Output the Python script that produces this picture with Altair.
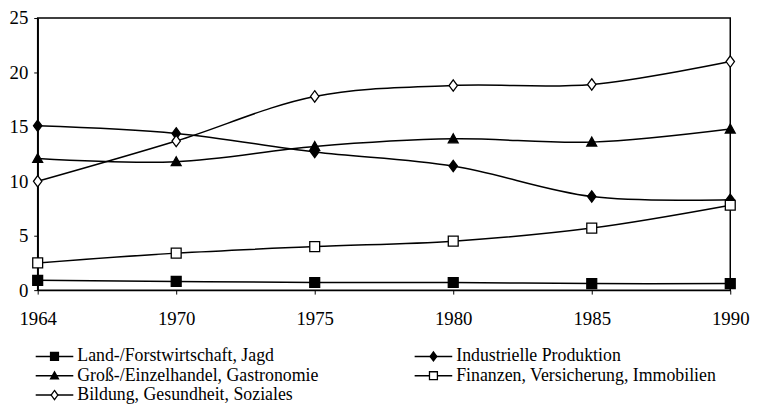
import altair as alt
import pandas as pd

years = ["1964", "1970", "1975", "1980", "1985", "1990"]
series = [
    "Land-/Forstwirtschaft, Jagd",
    "Industrielle Produktion",
    "Groß-/Einzelhandel, Gastronomie",
    "Finanzen, Versicherung, Immobilien",
    "Bildung, Gesundheit, Soziales",
]
land = [0.9, 0.8, 0.7, 0.7, 0.6, 0.6]
industrie = [15.1, 14.4, 12.7, 11.4, 8.6, 8.3]
handel = [12.1, 11.8, 13.2, 13.9, 13.6, 14.8]
finanzen = [2.5, 3.4, 4.0, 4.5, 5.7, 7.8]
bildung = [10.0, 13.7, 17.8, 18.8, 18.9, 21.0]
values = [land, industrie, handel, finanzen, bildung]

# legend layout: 2 columns, filled row by row
legend_col = [0, 1, 0, 1, 0]
legend_row = [0, 0, 1, 1, 2]

rows = []
for s, vals in zip(series, values):
    for y, v in zip(years, vals):
        rows.append({"Jahr": y, "Wert": v, "Bereich": s})
df = pd.DataFrame(rows)
leg_df = pd.DataFrame({"Bereich": series, "col": legend_col, "row": legend_row})

FONT = "Liberation Serif"

SQ = "M-1,-1H1V1H-1Z"
DIA = "M0,-1.15L0.85,0L0,1.15L-0.85,0Z"
TRI = "M0,-1L1,0.8H-1Z"
marker_shapes = [SQ, DIA, TRI, SQ, DIA]
marker_fill = ["black", "black", "black", "white", "white"]

x_enc = alt.X("Jahr:O", sort=years,
              scale=alt.Scale(type="point", padding=0),
              axis=alt.Axis(title=None, labelAngle=0, labelFont=FONT, labelFontSize=19,
                            labelColor="black", domainColor="black", domainWidth=1.5,
                            tickColor="black", tickSize=4, tickWidth=1, labelPadding=16))
y_enc = alt.Y("Wert:Q",
              scale=alt.Scale(domain=[0, 25], nice=False),
              axis=alt.Axis(title=None, values=[0, 5, 10, 15, 20, 25], grid=False,
                            labelFont=FONT, labelFontSize=19, labelColor="black",
                            domainColor="black", domainWidth=1.5, tickColor="black",
                            tickSize=4, labelPadding=6))

shape_enc = alt.Shape("Bereich:N", scale=alt.Scale(domain=series, range=marker_shapes), legend=None)
fill_enc = alt.Fill("Bereich:N", scale=alt.Scale(domain=series, range=marker_fill), legend=None)

base = alt.Chart(df)
lines = base.mark_line(interpolate="catmull-rom", color="black", strokeWidth=1.5).encode(
    x=x_enc, y=y_enc, detail="Bereich:N"
)
points = base.mark_point(size=100, stroke="black", strokeWidth=1.3, opacity=1).encode(
    x=x_enc, y=y_enc, shape=shape_enc, fill=fill_enc,
)
plot = alt.layer(lines, points)

# manual legend, positioned via its own scales
lx = alt.X("col:Q", scale=alt.Scale(domain=[0, 1], range=[17, 400], zero=False, nice=False), axis=None)
ly = alt.Y("row:Q", scale=alt.Scale(domain=[0, 2], range=[342, 381], zero=False, nice=False), axis=None)
lbase = alt.Chart(leg_df)
l_rule = lbase.mark_rule(color="black", strokeWidth=1.5, xOffset=-19, x2Offset=19).encode(
    x=lx, x2="col:Q", y=ly
)
l_pts = lbase.mark_point(size=64, stroke="black", strokeWidth=1.3, opacity=1).encode(
    x=lx, y=ly, shape=shape_enc, fill=fill_enc,
)
l_txt = lbase.mark_text(align="left", baseline="middle", dx=23, font=FONT, fontSize=18,
                        color="black").encode(x=lx, y=ly, text="Bereich:N")
legend = alt.layer(l_rule, l_pts, l_txt)

chart = alt.layer(plot, legend).resolve_scale(
    x="independent", y="independent"
).properties(
    width=700, height=275,
    autosize=alt.AutoSizeParams(type="none"),
    padding={"left": 30, "top": 8, "right": 25, "bottom": 120},
    background="white",
).configure_view(stroke="black", strokeWidth=1.5)

chart.save("out.html", embed_options={"renderer": "svg", "actions": False})
